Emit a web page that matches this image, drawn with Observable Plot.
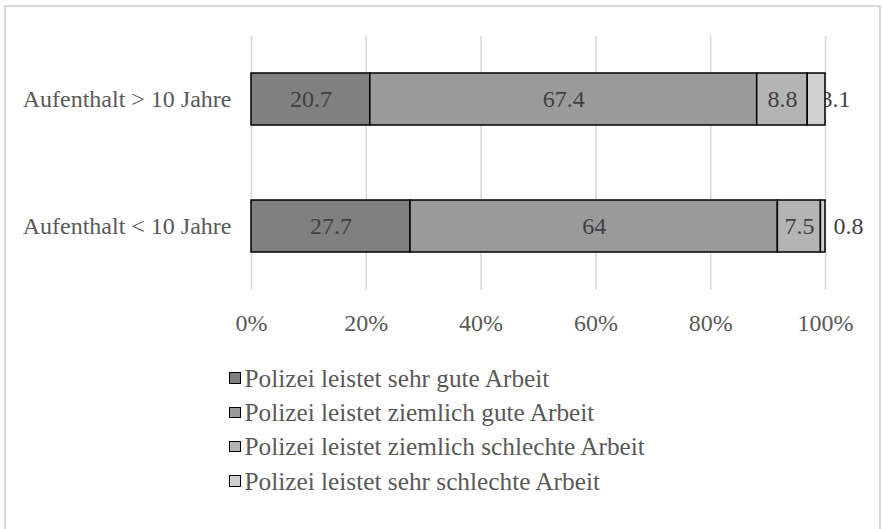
<!DOCTYPE html>
<html>
<head>
<meta charset="utf-8">
<script src="https://cdn.jsdelivr.net/npm/d3@7"></script>
<script src="https://cdn.jsdelivr.net/npm/@observablehq/plot@0.6"></script>
<style>
  html, body { margin: 0; padding: 0; background: #fff; width: 882px; height: 529px; overflow: hidden; }
  #frame { position: absolute; left: 4px; top: 5px; width: 877px; height: 600px; border: 2px solid #d9d9d9; box-sizing: border-box; }
  #chart { position: absolute; left: 0; top: 0; }
  #legend { position: absolute; left: 229px; top: 361px; font-family: "Liberation Serif", "Times New Roman", serif; font-size: 25.3px; color: #595959; }
  .item { display: flex; align-items: center; height: 34.3px; }
  .sw { width: 9.5px; height: 9.5px; border: 1.5px solid #000; margin-right: 4px; }
</style>
</head>
<body>
<div id="frame"></div>
<div id="chart"></div>
<div id="legend"></div>
<script>
const categories = ["Aufenthalt > 10 Jahre", "Aufenthalt < 10 Jahre"];
const series = [
  "Polizei leistet sehr gute Arbeit",
  "Polizei leistet ziemlich gute Arbeit",
  "Polizei leistet ziemlich schlechte Arbeit",
  "Polizei leistet sehr schlechte Arbeit"
];
const valuesOver10 = [20.7, 67.4, 8.8, 3.1];
const valuesUnder10 = [27.7, 64, 7.5, 0.8];
const colors = ["#808080", "#9a9a9a", "#b4b4b4", "#d0d0d0"];
const xTicks = [0, 20, 40, 60, 80, 100];
const tickLabels = ["0%", "20%", "40%", "60%", "80%", "100%"];

const rows = [valuesOver10, valuesUnder10];
const data = [];
categories.forEach((cat, i) => {
  series.forEach((s, j) => data.push({cat, series: s, value: rows[i][j]}));
});
const inside = data.filter(d => d.value >= 5);
// small labels placed past the bar end (at each row's total)
const outsideUnder = data.filter(d => d.value < 5).map(d => ({...d, total: d3.sum(data.filter(e => e.cat === d.cat), e => e.value)}));
const hiddenLbl = outsideUnder.filter(d => d.cat === categories[0]);
const rightLbl = outsideUnder.filter(d => d.cat === categories[1]);

const font = "Liberation Serif, Times New Roman, serif";
const fs = 24;
const plot = Plot.plot({
  width: 882,
  height: 350,
  marginLeft: 251,
  marginRight: 57,
  marginTop: 36,
  marginBottom: 60,
  style: {fontFamily: font, fontSize: fs + "px", background: "transparent"},
  x: {domain: [0, 100], axis: null},
  y: {domain: categories, paddingInner: 0.59, paddingOuter: 0.295, axis: null},
  color: {domain: series, range: colors},
  marks: [
    Plot.ruleX(xTicks, {stroke: "#d9d9d9", strokeWidth: 1.5}),
    Plot.axisX(xTicks, {tickSize: 0, tickPadding: 23, tickFormat: (d) => tickLabels[xTicks.indexOf(d)], fill: "#595959", fontSize: fs, label: null}),
    Plot.axisY(categories, {tickSize: 0, tickPadding: 20, fill: "#595959", fontSize: fs, label: null}),
    Plot.text(hiddenLbl, {x: "total", y: "cat", text: d => String(d.value), dx: 10, fill: "#404040", fontSize: fs}),
    Plot.barX(data, Plot.stackX({x: "value", y: "cat", fill: "series", stroke: "#000", strokeWidth: 1.5})),
    Plot.text(inside, Plot.stackX({x: "value", y: "cat", z: "cat", text: d => String(d.value), fill: "#404040", fontSize: fs})),
    Plot.text(rightLbl, {x: "total", y: "cat", text: d => String(d.value), dx: 23, fill: "#404040", fontSize: fs})
  ]
});
document.getElementById("chart").appendChild(plot);

const legend = document.getElementById("legend");
series.forEach((s, i) => {
  const it = document.createElement("div");
  it.className = "item";
  const sw = document.createElement("div");
  sw.className = "sw";
  sw.style.background = colors[i];
  const tx = document.createElement("span");
  tx.textContent = s;
  it.appendChild(sw); it.appendChild(tx);
  legend.appendChild(it);
});
</script>
</body>
</html>
